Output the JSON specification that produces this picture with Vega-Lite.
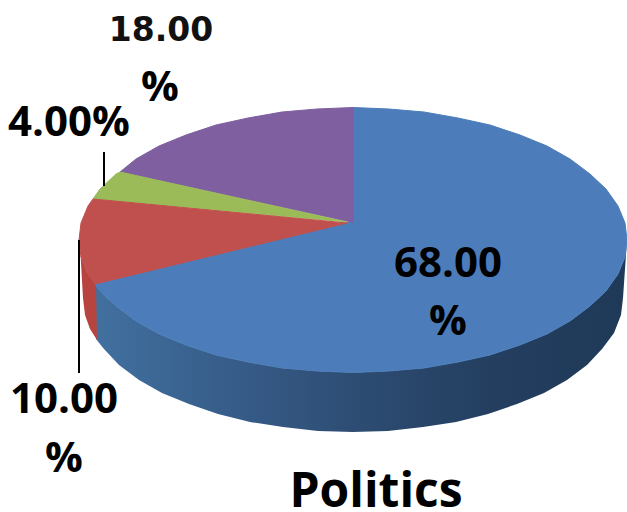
{"$schema":"https://vega.github.io/schema/vega-lite/v6.json","width":627,"height":512,"padding":0,"autosize":"none","background":"white","view":{"stroke":null},
"layer":[
{"data":{"values":[{"type":"Feature","properties":{"part":"side"},"geometry":{"type":"Polygon","coordinates":[[[627,240],[625,257],[618,274],[606,291],[590,306],[570,321],[547,334],[520,345],[490,355],[458,362],[424,368],[389,371],[353,372.5],[317,371],[282,368],[248,362],[216,355],[186,345],[159,334],[136,321],[116,306],[100,291],[95,284],[96,339],[104,349],[119,365],[139,380],[162,393],[189,404],[218,414],[250,422],[283,427],[318,431],[353,432],[388,431],[423,427],[456,422],[488,414],[517,404],[544,393],[567,380],[587,365],[602,349],[614,333],[621,315],[623,298],[627,240]]]}}]},
"projection":{"type":"identity","fit":false,"scale":1,"translate":[0,0]},
"mark":{"type":"geoshape","stroke":null,"fill":{"gradient":"linear","x1":0,"x2":1,"y1":0,"y2":0,"stops":[{"offset":0,"color":"#41709f"},{"offset":0.25,"color":"#375d8a"},{"offset":0.5,"color":"#2d4c72"},{"offset":0.75,"color":"#233e5f"},{"offset":1,"color":"#1f3a58"}]}}},
{"data":{"values":[{"type":"Feature","properties":{"part":"side"},"geometry":{"type":"Polygon","coordinates":[[[96,284],[88,274],[81,257],[80,245],[83,298],[85,315],[90,329],[97,340],[96,284]]]}}]},
"projection":{"type":"identity","fit":false,"scale":1,"translate":[0,0]},
"mark":{"type":"geoshape","stroke":null,"fill":"#b8443f"}},
{"data":{"values":[
{"type":"Feature","properties":{"slice":"68.00%","share":68},"geometry":{"type":"Polygon","coordinates":[[[350,222],[353,107.5],[389,109],[424,112],[458,118],[490,125],[520,135],[547,146],[570,159],[590,174],[606,189],[618,206],[625,223],[627,240],[625,257],[618,274],[606,291],[590,306],[570,321],[547,334],[520,345],[490,355],[458,362],[424,368],[389,371],[353,372.5],[317,371],[282,368],[248,362],[216,355],[186,345],[159,334],[136,321],[116,306],[100,291],[95,284],[350,222]]]}},
{"type":"Feature","properties":{"slice":"18.00%","share":18},"geometry":{"type":"Polygon","coordinates":[[[351,222],[120,172],[136,159],[159,146],[186,135],[216,125],[248,118],[282,112],[317,109],[353,107.5],[353,222],[351,222]]]}},
{"type":"Feature","properties":{"slice":"4.00%","share":4},"geometry":{"type":"Polygon","coordinates":[[[347,222],[93,199],[100,189],[116,174],[120,172],[347,222]]]}},
{"type":"Feature","properties":{"slice":"10.00%","share":10},"geometry":{"type":"Polygon","coordinates":[[[347,223],[95,284],[88,274],[81,257],[79,240],[81,223],[88,206],[93,199],[347,223]]]}}
]},
"projection":{"type":"identity","fit":false,"scale":1,"translate":[0,0]},
"mark":{"type":"geoshape","strokeWidth":1},
"encoding":{"color":{"field":"properties.slice","type":"nominal","legend":null,"scale":{"domain":["68.00%","18.00%","4.00%","10.00%"],"range":["#4c7dba","#7f5fa0","#9bbb59","#c0504d"]}},"stroke":{"field":"properties.slice","type":"nominal","legend":null,"scale":{"domain":["68.00%","18.00%","4.00%","10.00%"],"range":["#4c7dba","#7f5fa0","#9bbb59","#c0504d"]}}}},
{"data":{"values":[{"a":104,"b":152,"c":186},{"a":79,"b":240,"c":373}]},
"mark":{"type":"rule","color":"#000000","strokeWidth":2},
"encoding":{"x":{"field":"a","type":"quantitative","scale":{"domain":[0,627]},"axis":null},"y":{"field":"b","type":"quantitative","scale":{"domain":[512,0]},"axis":null},"y2":{"field":"c"}}},
{"data":{"values":[{"t":"68.00","a":448,"b":264},{"t":"%","a":448,"b":322},{"t":"10.00","a":64,"b":400},{"t":"%","a":64,"b":459},{"t":"4.00%","a":69,"b":123},{"t":"%","a":160,"b":88}]},
"mark":{"type":"text","font":"Open Sans","fontWeight":"bold","fontSize":42,"align":"center","baseline":"middle","color":"#000000"},
"encoding":{"x":{"field":"a","type":"quantitative","scale":{"domain":[0,627]},"axis":null},"y":{"field":"b","type":"quantitative","scale":{"domain":[512,0]},"axis":null},"text":{"field":"t"}}},
{"data":{"values":[{"t":"18.00","a":161,"b":31}]},
"mark":{"type":"text","font":"DejaVu Sans","fontWeight":"bold","fontSize":33,"align":"center","baseline":"middle","color":"#111111"},
"encoding":{"x":{"field":"a","type":"quantitative","scale":{"domain":[0,627]},"axis":null},"y":{"field":"b","type":"quantitative","scale":{"domain":[512,0]},"axis":null},"text":{"field":"t"}}},
{"data":{"values":[{"t":"Politics","a":376,"b":493}]},
"mark":{"type":"text","font":"Open Sans","fontWeight":"bold","fontSize":48,"align":"center","baseline":"middle","color":"#000000"},
"encoding":{"x":{"field":"a","type":"quantitative","scale":{"domain":[0,627]},"axis":null},"y":{"field":"b","type":"quantitative","scale":{"domain":[512,0]},"axis":null},"text":{"field":"t"}}}
]}
